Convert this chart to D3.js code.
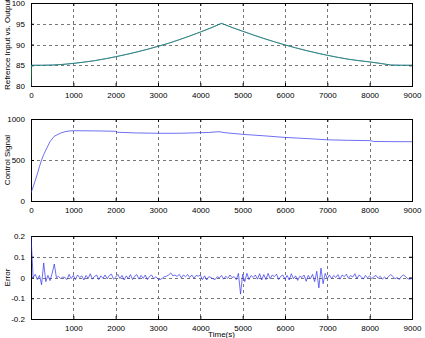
<!DOCTYPE html>
<html>
<head>
<meta charset="utf-8">
<script src="https://cdn.jsdelivr.net/npm/d3@7"></script>
<style>
  body { margin: 0; background: white; }
  svg { display: block; font-family: "Liberation Sans", Arial, sans-serif; }
</style>
</head>
<body>
<div id="figure"></div>
<script>
// ---- data ----
const xTicks = [0, 1000, 2000, 3000, 4000, 5000, 6000, 7000, 8000, 9000]
const xTicksErr = [1000, 2000, 3000, 4000, 5000, 6000, 7000, 8000, 9000]

// top: reference input and plant output
const refTime = [0, 250, 500, 750, 1000, 1250, 1500, 1750, 2000, 2250, 2500, 2750, 3000, 3250, 3500, 3750, 4000, 4250, 4500,
  4750, 5000, 5250, 5500, 5750, 6000, 6250, 6500, 6750, 7000, 7250, 7500, 7750, 8000, 8250, 8500, 8750, 9000]
const refValue = [85, 85, 85.05, 85.2, 85.45, 85.75, 86.1, 86.55, 87.05, 87.6, 88.2, 88.85, 89.55, 90.3, 91.15, 92.05, 93.0, 94.0, 95.1,
  94.1, 93.2, 92.3, 91.45, 90.65, 89.9, 89.2, 88.55, 87.95, 87.4, 86.9, 86.45, 86.1, 85.8, 85.45, 85.05, 85, 85]
const outTime = [0, 15, 250, 500, 750, 1000, 1250, 1500, 1750, 2000, 2250, 2500, 2750, 3000, 3250, 3500, 3750, 4000, 4250, 4500,
  4750, 5000, 5250, 5500, 5750, 6000, 6250, 6500, 6750, 7000, 7250, 7500, 7750, 8000, 8250, 8500, 8750, 9000]
const outValue = [80, 85, 85, 85.05, 85.2, 85.45, 85.75, 86.1, 86.55, 87.05, 87.6, 88.2, 88.85, 89.55, 90.3, 91.15, 92.05, 93.0, 94.0, 95.1,
  94.1, 93.2, 92.3, 91.45, 90.65, 89.9, 89.2, 88.55, 87.95, 87.4, 86.9, 86.45, 86.1, 85.8, 85.45, 85.05, 85, 85]
const refTicks = [80, 85, 90, 95, 100]

// middle: control signal
const ctrlTime = [0, 50, 100, 150, 200, 250, 300, 350, 450, 550, 700, 800, 900, 1000, 1500, 2000, 2050, 2500, 3000, 3500, 4000, 4200,
  4440, 4600, 5000, 5500, 6000, 6500, 7000, 7500, 8000, 8100, 8500, 9000]
const ctrlValue = [100, 170, 250, 330, 420, 500, 565, 620, 725, 790, 828, 845, 854, 857, 855, 850, 838, 830, 826, 826, 833, 836,
  845, 832, 813, 795, 775, 762, 746, 740, 736, 726, 724, 723]
const ctrlTicks = [0, 500, 1000]

// bottom: tracking error, one sample every 50 s
const errStep = 50
const errValue = [
  0.2, 0.0, 0.015, -0.01, 0.01, -0.035, 0.07, -0.02, 0.01, -0.015, 0.02, 0.065, 0.0, 0.005, -0.005, 0.002, 0.0, -0.01, 0.015, -0.005,
  0.01, -0.01, 0.012, 0.0, 0.008, -0.012, 0.01, -0.005, 0.018, -0.008, 0.005, 0.012, -0.01, 0.008, -0.004, 0.012, -0.006, 0.01, 0.016, -0.008,
  0.002, 0.015, -0.005, 0.01, -0.012, 0.008, -0.006, 0.014, -0.01, 0.006, 0.014, -0.008, 0.01, -0.004, 0.012, -0.01, 0.005, 0.012, -0.006, 0.004,
  -0.008, -0.01, -0.004, 0.004, 0.006, 0.012, 0.022, 0.008, 0.012, 0.005, 0.015, -0.002, 0.012, 0.004, 0.014, 0.0, 0.012, -0.004, 0.01, 0.006,
  0.012, -0.01, 0.008, -0.012, 0.004, 0.0, -0.006, -0.01, 0.004, -0.002, 0.01, -0.008, 0.006, -0.004, 0.012, 0.0, 0.004, -0.01, 0.02, -0.08,
  0.015, -0.02, 0.02, -0.01, 0.01, 0.0, 0.012, -0.008, 0.018, -0.012, 0.014, -0.01, 0.02, -0.006, 0.012, 0.004, 0.016, -0.01, 0.006, 0.012,
  -0.008, 0.01, -0.012, 0.018, -0.006, 0.008, -0.014, 0.006, 0.0, 0.012, -0.018, 0.01, -0.006, 0.015, -0.02, 0.03, -0.05, 0.045, -0.03, 0.02,
  -0.005, 0.012, -0.006, 0.01, 0.0, 0.014, -0.008, 0.012, 0.004, 0.016, -0.004, 0.01, 0.002, 0.018, -0.006, 0.012, 0.004, -0.008, 0.01, -0.002,
  0.008, -0.006, 0.004, 0.01, -0.004, 0.006, -0.008, 0.002, -0.006, 0.006, 0.014, 0.004, -0.006, 0.0, -0.01, 0.006, 0.012, 0.004, -0.006, -0.008,
  -0.004
]
const errTicks = [-0.2, -0.1, 0, 0.1, 0.2]

// ---- figure ----
const width = 425
const height = 338
const left = 31
const right = 412

const svg = d3.select('#figure').append('svg')
  .attr('width', width).attr('height', height)
  .attr('style', 'background:white')

const x = d3.scaleLinear().domain([0, 9000]).range([left, right])

function panel(top, bottom, yDomain, yTicks, xTickVals, yLabel) {
  const y = d3.scaleLinear().domain(yDomain).range([bottom, top])
  const g = svg.append('g')

  // grid (dotted)
  const grid = g.append('g').attr('stroke', '#777').attr('stroke-width', 1)
    .attr('stroke-dasharray', '3,3').attr('shape-rendering', 'crispEdges')
  grid.selectAll('.gx').data(xTickVals.filter(d => d > 0 && d < 9000)).enter().append('line')
    .attr('x1', d => Math.round(x(d)) + 0.5).attr('x2', d => Math.round(x(d)) + 0.5)
    .attr('y1', top).attr('y2', bottom)
  grid.selectAll('.gy').data(yTicks.slice(1, -1)).enter().append('line')
    .attr('y1', d => Math.round(y(d)) + 0.5).attr('y2', d => Math.round(y(d)) + 0.5)
    .attr('x1', left).attr('x2', right)

  // inner ticks on all four sides
  const ax = d3.axisBottom(x).tickValues(xTickVals).tickSizeInner(-3).tickSizeOuter(0).tickPadding(6).tickFormat(d3.format('d'))
  const axB = g.append('g').attr('transform', `translate(0,${bottom})`).call(ax)
  const axT = g.append('g').attr('transform', `translate(0,${top})`)
    .call(d3.axisTop(x).tickValues(xTickVals).tickSizeInner(-3).tickSizeOuter(0).tickFormat(''))
  const axL = g.append('g').attr('transform', `translate(${left},0)`)
    .call(d3.axisLeft(y).tickValues(yTicks).tickSizeInner(-3).tickSizeOuter(0).tickPadding(6).tickFormat(d => String(d)))
  const axR = g.append('g').attr('transform', `translate(${right},0)`)
    .call(d3.axisRight(y).tickValues(yTicks).tickSizeInner(-3).tickSizeOuter(0).tickFormat(''))
  for (const a of [axB, axT, axL, axR]) {
    a.select('.domain').remove()
    a.selectAll('line').attr('stroke', '#000')
    a.selectAll('text').attr('font-size', 8).attr('fill', '#000')
      .attr('font-family', '"Liberation Sans", Arial, sans-serif')
  }

  // box
  g.append('rect').attr('x', left + 0.5).attr('y', top + 0.5)
    .attr('width', right - left).attr('height', bottom - top)
    .attr('fill', 'none').attr('stroke', '#000').attr('stroke-width', 1)

  // y label
  g.append('text').text(yLabel)
    .attr('transform', `translate(10,${(top + bottom) / 2}) rotate(-90)`)
    .attr('text-anchor', 'middle').attr('font-size', 8).attr('fill', '#000')

  const clip = 'clip' + top
  svg.append('clipPath').attr('id', clip).append('rect')
    .attr('x', left).attr('y', top).attr('width', right - left + 1).attr('height', bottom - top + 1)
  const plot = svg.append('g').attr('clip-path', `url(#${clip})`)
  return { y, plot }
}

// top panel
const p1 = panel(3, 86, [80, 100], refTicks, xTicks, 'Refrence Input vs. Output')
const line1 = d3.line().x(d => x(d[0])).y(d => p1.y(d[1]))
p1.plot.append('path').datum(d3.zip(refTime, refValue)).attr('d', line1)
  .attr('fill', 'none').attr('stroke', '#4060ff').attr('stroke-width', 0.7)
p1.plot.append('path').datum(d3.zip(outTime, outValue)).attr('d', line1)
  .attr('fill', 'none').attr('stroke', '#1a8a4a').attr('stroke-width', 0.8)

// middle panel
const p2 = panel(119, 201, [0, 1000], ctrlTicks, xTicks, 'Control Signal')
p2.plot.append('path').datum(d3.zip(ctrlTime, ctrlValue))
  .attr('d', d3.line().x(d => x(d[0])).y(d => p2.y(d[1])))
  .attr('fill', 'none').attr('stroke', '#3030ee').attr('stroke-width', 0.7)

// bottom panel
const p3 = panel(236, 319, [-0.2, 0.2], errTicks, xTicksErr, 'Error')
p3.plot.append('path').datum(errValue)
  .attr('d', d3.line().x((d, i) => x(i * errStep)).y(d => p3.y(d)))
  .attr('fill', 'none').attr('stroke', '#3030ee').attr('stroke-width', 0.7)

svg.append('text').text('Time(s)')
  .attr('x', (left + right) / 2).attr('y', 337)
  .attr('text-anchor', 'middle').attr('font-size', 8).attr('fill', '#000')
</script>
</body>
</html>
